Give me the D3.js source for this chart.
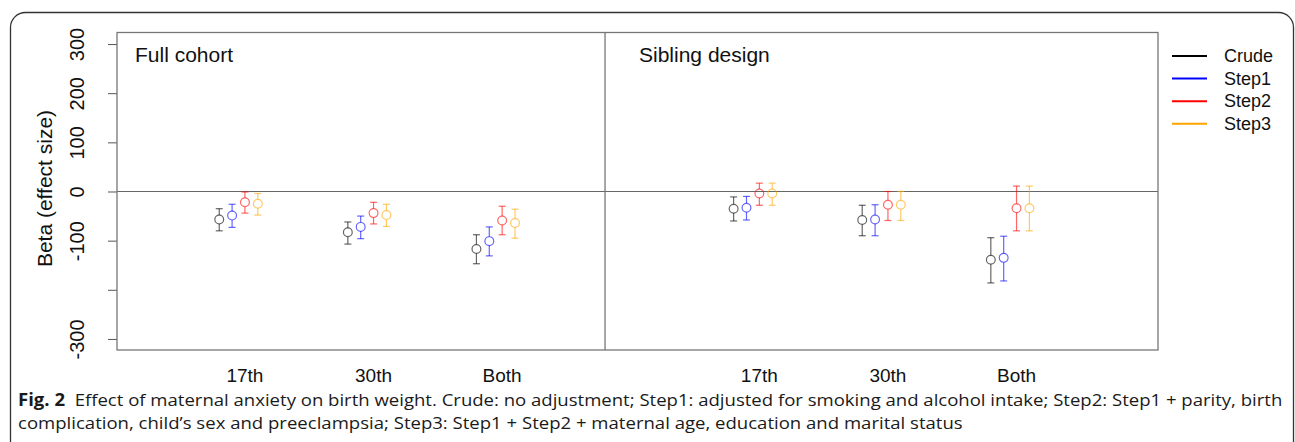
<!DOCTYPE html>
<html>
<head>
<meta charset="utf-8">
<script src="https://cdn.jsdelivr.net/npm/d3@7"></script>
<style>
  body { margin: 0; background: #fff; }
  svg { display: block; }
</style>
</head>
<body>
<svg id="chart"></svg>
<script>
// groups along the x axis (left panel = full cohort, right panel = sibling design)
const groupLabels = ["17th", "30th", "Both", "17th", "30th", "Both"];
const groupPos = [1, 2, 3, 5, 6, 7];
const panelTitles = ["Full cohort", "Sibling design"];

const models = ["Crude", "Step1", "Step2", "Step3"];
const modelColors = ["#000000", "#0000ff", "#ff0000", "#ffa500"];

// point estimates and 95% CI per model
const crudeEst = [-57, -83, -117, -35, -58, -139];
const crudeLo  = [-80, -107, -147, -60, -90, -186];
const crudeHi  = [-35, -62, -88, -11, -28, -94];

const step1Est = [-49, -72, -101, -33, -57, -135];
const step1Lo  = [-73, -96, -131, -58, -90, -182];
const step1Hi  = [-26, -50, -72, -10, -27, -91];

const step2Est = [-22, -44, -59, -4, -27, -34];
const step2Lo  = [-44, -66, -88, -28, -59, -80];
const step2Hi  = [-1, -22, -30, 17, 0, 11];

const step3Est = [-25, -48, -64, -4, -27, -34];
const step3Lo  = [-48, -71, -95, -28, -59, -80];
const step3Hi  = [-4, -26, -36, 17, 0, 11];

const yTicks = [300, 200, 100, 0, -100, -200, -300];
const yTickLabels = ["300", "200", "100", "0", "-100", "", "-300"];

const W = 1295, H = 442;
const box = { left: 117, right: 1158, top: 32.5, bottom: 350 };
const chartFont = "Liberation Sans, Arial, sans-serif";

const svg = d3.select("#chart").attr("width", W).attr("height", H);

// outer figure frame (rounded, runs off the bottom)
svg.append("rect")
    .attr("x", 10.5).attr("y", 12.5)
    .attr("width", 1283).attr("height", 460)
    .attr("rx", 15)
    .attr("fill", "none")
    .attr("stroke", "#333")
    .attr("stroke-width", 1.3);

const x = d3.scaleLinear().domain([0.055, 8.15]).range([box.left, box.right]);
const y = d3.scaleLinear().domain([-322.5, 323.5]).range([box.bottom, box.top]);

// y axis
const yAxis = svg.append("g")
    .attr("transform", `translate(${box.left},0)`)
    .call(d3.axisLeft(y).tickValues(yTicks).tickSize(9).tickFormat((d, i) => yTickLabels[i]));
yAxis.select(".domain").remove();
yAxis.selectAll("line").attr("stroke", "#555");
yAxis.selectAll("text")
    .attr("x", null).attr("dy", null)
    .attr("transform", "translate(-40,0) rotate(-90)")
    .attr("text-anchor", "middle")
    .attr("dominant-baseline", "central")
    .attr("fill", "#111")
    .style("font-family", chartFont)
    .style("font-size", "20px");

svg.append("text")
    .attr("transform", `translate(44,${y(0) - 3}) rotate(-90)`)
    .attr("text-anchor", "middle")
    .attr("dominant-baseline", "central")
    .style("font-family", chartFont)
    .style("font-size", "21px")
    .attr("fill", "#111")
    .text("Beta (effect size)");

// zero line and panel divider
svg.append("line")
    .attr("x1", box.left).attr("x2", box.right)
    .attr("y1", y(0)).attr("y2", y(0))
    .attr("stroke", "#666").attr("stroke-width", 1.2);

const dividerPos = 3.85;
svg.append("line")
    .attr("x1", x(dividerPos)).attr("x2", x(dividerPos))
    .attr("y1", box.top).attr("y2", box.bottom)
    .attr("stroke", "#777").attr("stroke-width", 1.3);

// plot box
svg.append("rect")
    .attr("x", box.left).attr("y", box.top)
    .attr("width", box.right - box.left).attr("height", box.bottom - box.top)
    .attr("fill", "none")
    .attr("stroke", "#777").attr("stroke-width", 1.3);

// panel titles
svg.selectAll(".panel-title")
    .data(panelTitles)
    .enter()
    .append("text")
    .attr("class", "panel-title")
    .attr("x", (d, i) => i === 0 ? 135 : 639)
    .attr("y", 62)
    .style("font-family", chartFont)
    .style("font-size", "21px")
    .attr("fill", "#111")
    .text(d => d);

// category labels under the box
svg.selectAll(".cat-label")
    .data(groupLabels)
    .enter()
    .append("text")
    .attr("class", "cat-label")
    .attr("x", (d, i) => x(groupPos[i] + 0.05))
    .attr("y", 382)
    .attr("text-anchor", "middle")
    .style("font-family", chartFont)
    .style("font-size", "19px")
    .attr("fill", "#111")
    .text(d => d);

// error bars
const series = [
    { est: crudeEst, lo: crudeLo, hi: crudeHi },
    { est: step1Est, lo: step1Lo, hi: step1Hi },
    { est: step2Est, lo: step2Lo, hi: step2Hi },
    { est: step3Est, lo: step3Lo, hi: step3Hi }
];
const offsets = [-0.15, -0.05, 0.05, 0.15];
const capHalf = 3.5;
const r = 4.4;

series.forEach((s, m) => {
    const color = modelColors[m];
    const g = svg.append("g")
        .attr("stroke", color)
        .attr("stroke-opacity", 0.6)
        .attr("fill", "none")
        .attr("stroke-width", 1.2);

    groupPos.forEach((p, i) => {
        const cx = x(p + offsets[m]);
        const cy = y(s.est[i]);
        // upper part and lower part of the whisker, leaving the circle open
        g.append("line").attr("x1", cx).attr("x2", cx).attr("y1", y(s.hi[i])).attr("y2", cy - r);
        g.append("line").attr("x1", cx).attr("x2", cx).attr("y1", cy + r).attr("y2", y(s.lo[i]));
        g.append("line").attr("x1", cx - capHalf).attr("x2", cx + capHalf).attr("y1", y(s.hi[i])).attr("y2", y(s.hi[i]));
        g.append("line").attr("x1", cx - capHalf).attr("x2", cx + capHalf).attr("y1", y(s.lo[i])).attr("y2", y(s.lo[i]));
        g.append("circle").attr("cx", cx).attr("cy", cy).attr("r", r);
    });
});

// legend
const legend = svg.append("g").attr("transform", "translate(1172,56)");
models.forEach((name, i) => {
    const row = legend.append("g").attr("transform", `translate(0,${i * 22.6})`);
    row.append("line")
        .attr("x1", 0).attr("x2", 35)
        .attr("stroke", modelColors[i])
        .attr("stroke-width", 2);
    row.append("text")
        .attr("x", 52)
        .attr("dominant-baseline", "central")
        .style("font-family", chartFont)
        .style("font-size", "18px")
        .attr("fill", "#111")
        .text(name);
});

// caption, squeezed horizontally to the width of the original narrow typeface
const captionLines = [
    { bold: "Fig. 2", rest: "  Effect of maternal anxiety on birth weight. Crude: no adjustment; Step1: adjusted for smoking and alcohol intake; Step2: Step1 + parity, birth", width: 1265 },
    { bold: "", rest: "complication, child\u2019s sex and preeclampsia; Step3: Step1 + Step2 + maternal age, education and marital status", width: 946 }
];
captionLines.forEach((line, i) => {
    const t = svg.append("text")
        .attr("x", 0)
        .attr("y", 0)
        .style("font-family", "Open Sans, Noto Sans, sans-serif")
        .style("font-size", "17px")
        .attr("fill", "#1a1a1a");
    if (line.bold) {
        t.append("tspan").style("font-weight", "bold").text(line.bold);
    }
    t.append("tspan").style("white-space", "pre").text(line.rest);
    const natural = t.node().getComputedTextLength();
    t.attr("transform", `translate(18,${406 + i * 23}) scale(${line.width / natural},1)`);
});
</script>
</body>
</html>
